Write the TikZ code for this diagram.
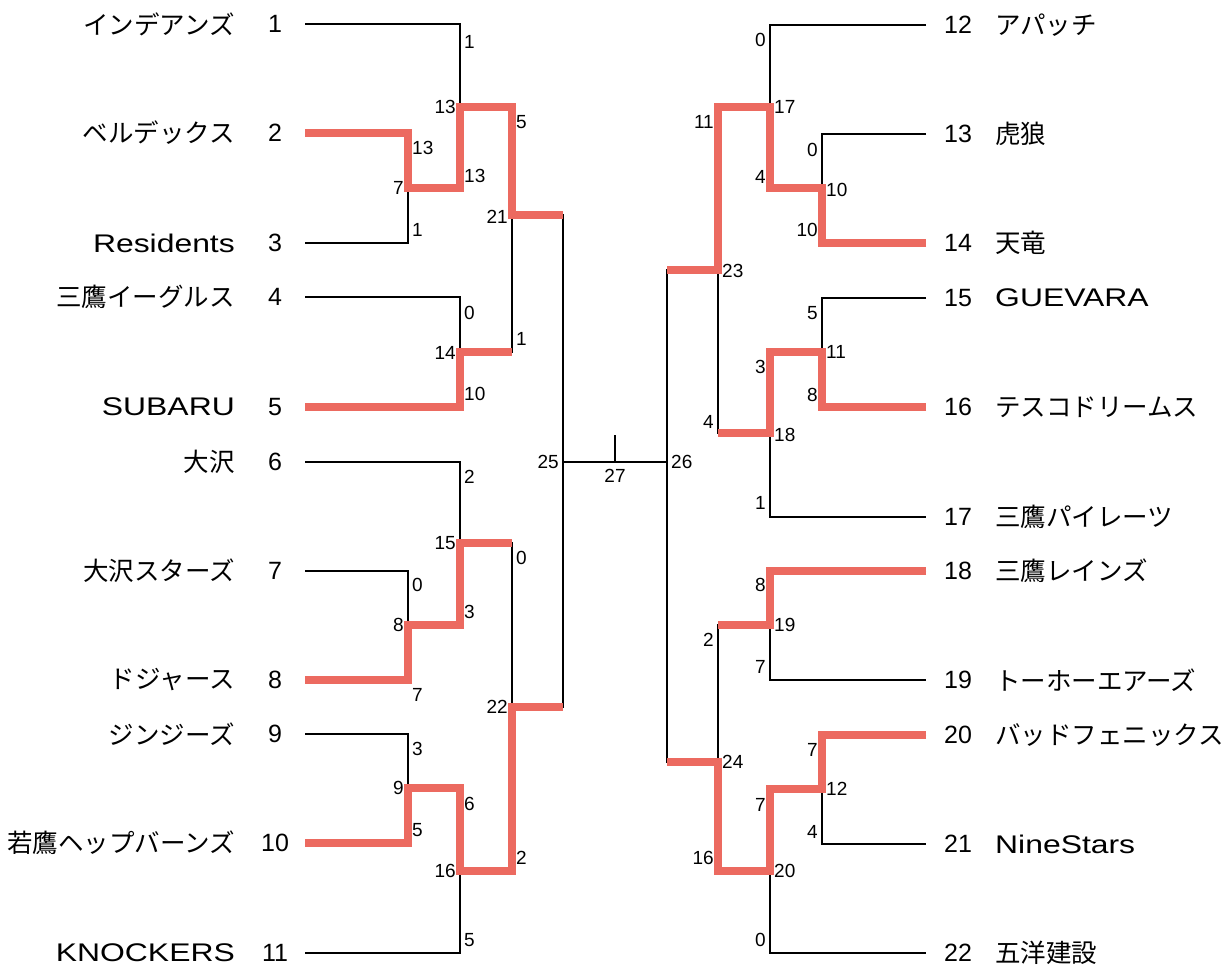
\documentclass[tikz,border=0pt]{standalone}
\usepackage{fontspec}
\setmainfont{Liberation Sans}
\newfontfamily\jp{Noto Sans CJK JP}
\newfontfamily\wide[FakeStretch=1.25]{Liberation Sans}
\definecolor{redline}{RGB}{236,106,96}
\tikzset{
  bk/.style={line width=1.7pt, black, line join=miter},
  rd/.style={line width=7.5pt, draw=redline, line join=miter},
  tname/.style={inner sep=0pt, font=\fontsize{25.5}{30}\selectfont},
  tnum/.style={inner sep=0pt, font=\fontsize{25}{30}\selectfont},
  sc/.style={inner sep=0pt, font=\fontsize{19}{22}\selectfont},
  scr/.style={sc, anchor=west},
  scl/.style={sc, anchor=east}
}
\begin{document}
\begin{tikzpicture}[x=1pt,y=-1pt]
\useasboundingbox[fill=white] (0,0) rectangle (1222,966);
% ---------- left team line ends
\foreach \n/\y in {1/24,2/133,3/243,4/297,5/407,6/462,7/571,8/680,9/734,10/843,11/953}
  \coordinate (L\n) at (305,\y);
% ---------- right team line ends
\foreach \n/\y in {12/25,13/134,14/243,15/298,16/407,17/517,18/571,19/680,20/735,21/844,22/953}
  \coordinate (R\n) at (926,\y);
% ---------- junctions (left)
\coordinate (J7) at (408,188);
\coordinate (J13) at (460,107);
\coordinate (J14) at (460,352);
\coordinate (J21) at (512,215);
\coordinate (J8) at (408,625);
\coordinate (J15) at (460,543);
\coordinate (J9) at (408,788);
\coordinate (J16) at (460,871);
\coordinate (J22) at (512,707);
\coordinate (J25) at (563,462);
% ---------- junctions (right)
\coordinate (J10) at (822,188);
\coordinate (J17) at (770,107);
\coordinate (J11) at (822,352);
\coordinate (J18) at (770,433);
\coordinate (J23) at (718,270);
\coordinate (J19) at (770,625);
\coordinate (J12) at (822,789);
\coordinate (J20) at (770,871);
\coordinate (J24) at (718,762);
\coordinate (J26) at (667,462);
% final
\coordinate (F) at (615,462);
\coordinate (FT) at (615,435);
% ---------- black brackets
\draw[bk] (L2) -| (J7) |- (L3);
\draw[bk] (L1) -| (J13) |- (J7);
\draw[bk] (L4) -| (J14) |- (L5);
\draw[bk] (J13) -| (J21) |- (J14);
\draw[bk] (L7) -| (J8) |- (L8);
\draw[bk] (L6) -| (J15) |- (J8);
\draw[bk] (L9) -| (J9) |- (L10);
\draw[bk] (J9) -| (J16) |- (L11);
\draw[bk] (J15) -| (J22) |- (J16);
\draw[bk] (J21) -| (J25) |- (J22);
\draw[bk] (R13) -| (J10) |- (R14);
\draw[bk] (R12) -| (J17) |- (J10);
\draw[bk] (R15) -| (J11) |- (R16);
\draw[bk] (J11) -| (J18) |- (R17);
\draw[bk] (J17) -| (J23) |- (J18);
\draw[bk] (R18) -| (J19) |- (R19);
\draw[bk] (R20) -| (J12) |- (R21);
\draw[bk] (J12) -| (J20) |- (R22);
\draw[bk] (J19) -| (J24) |- (J20);
\draw[bk] (J23) -| (J26) |- (J24);
\draw[bk] (J25) -- (J26);
\draw[bk] (F) -- (FT);
% ---------- red winner paths
\draw[rd] (L2) -| (J7) -| (J13) -| (J21) -- (J21 -| J25);
\draw[rd] (L5) -| (J14) -- (J14 -| J21);
\draw[rd] (L8) -| (J8) -| (J15) -- (J15 -| J22);
\draw[rd] (L10) -| (J9) -| (J16) -| (J22) -- (J22 -| J25);
\draw[rd] (R14) -| (J10) -| (J17) -| (J23) -- (J23 -| J26);
\draw[rd] (R16) -| (J11) -| (J18) -- (J18 -| J23);
\draw[rd] (R18) -| (J19) -- (J19 -| J24);
\draw[rd] (R20) -| (J12) -| (J20) -| (J24) -- (J24 -| J26);
% ---------- team labels left
\foreach \n/\y/\name in {1/24/\jp インデアンズ,2/133/\jp ベルデックス,3/243/\wide Residents,4/297/\jp 三鷹イーグルス,5/407/\wide SUBARU,6/462/\jp 大沢,7/571/\jp 大沢スターズ,8/680/\jp ドジャース,9/734/\jp ジンジーズ,10/843/\jp 若鷹ヘップバーンズ,11/953/\wide KNOCKERS}{
  \node[tname, anchor=east] (tn\n) at (235,\y) {\name};
  \node[tnum] (tk\n) at (275,\y) {\n};
}
% ---------- team labels right
\foreach \n/\y/\name in {12/25/\jp アパッチ,13/134/\jp 虎狼,14/243/\jp 天竜,15/298/\wide GUEVARA,16/407/\jp テスコドリームス,17/517/\jp 三鷹パイレーツ,18/571/\jp 三鷹レインズ,19/680/\jp トーホーエアーズ,20/735/\jp バッドフェニックス,21/844/\wide NineStars,22/953/\jp 五洋建設}{
  \node[tnum] (tk\n) at (958,\y) {\n};
  \node[tname, anchor=west] (tn\n) at (995,\y) {\name};
}
% ---------- scores right of verticals
\foreach \x/\y/\t [count=\i] in {
  464/42/1, 412/148/13, 464/176/13, 412/230/1, 516/122/5,
  464/313/0, 464/394/10, 516/339/1,
  464/477/2, 516/558/0, 412/585/0, 464/612/3, 412/695/7,
  412/749/3, 412/830/5, 464/804/6, 516/858/2, 464/940/5,
  671/462/26,
  774/107/17, 826/190/10, 722/271/23, 826/352/11, 774/435/18,
  774/625/19, 722/762/24, 826/789/12, 774/871/20}
  \node[scr] (sr\i) at (\x,\y) {\t};
% ---------- scores left of verticals
\foreach \x/\y/\t [count=\i] in {
  456/107/13, 404/188/7, 508/217/21, 456/353/14, 456/543/15,
  404/625/8, 404/788/9, 456/871/16, 508/707/22, 559/462/25,
  766/40/0, 714/122/11, 818/150/0, 766/177/4, 818/230/10, 818/313/5,
  766/367/3, 818/395/8, 714/422/4, 766/503/1,
  766/585/8, 714/640/2, 766/667/7, 818/750/7, 766/805/7, 818/832/4,
  714/858/16, 766/940/0}
  \node[scl] (sl\i) at (\x,\y) {\t};
\node[sc] (g27) at (615,476) {27};
\end{tikzpicture}
\end{document}
